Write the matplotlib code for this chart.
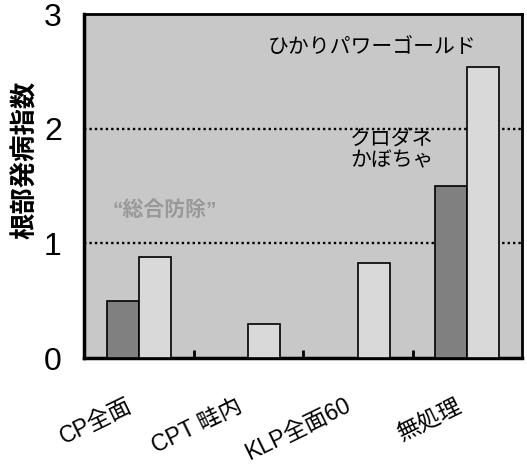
import numpy as np
import matplotlib
matplotlib.use('Agg')
import matplotlib.pyplot as plt
from matplotlib.ticker import FixedLocator
from matplotlib.transforms import ScaledTranslation

plt.rcParams['font.family'] = ['Liberation Sans', 'Noto Sans CJK JP', 'DejaVu Sans']

# data
categories = ['CP全面', 'CPT 畦内', 'KLP全面60', '無処理']
kurodane = [0.5, np.nan, np.nan, 1.5]      # クロダネかぼちゃ
hikari = [0.88, 0.3, 0.83, 2.54]           # ひかりパワーゴールド

fig = plt.figure(figsize=(5.27, 4.67), dpi=100)
ax = fig.add_axes([84/527, (467-358)/467, (522-84)/527, (358-14)/467])
ax.set_facecolor('#c8c8c8')

x = np.arange(len(categories))
w = 0.29
ax.bar(x, kurodane, width=-w, align='edge', color='#808080', edgecolor='black', linewidth=1.2, zorder=3)
ax.bar(x, hikari, width=w, align='edge', color='#d9d9d9', edgecolor='black', linewidth=1.2, zorder=3)

ax.set_xlim(-0.5, 3.5)
ax.set_ylim(0, 3)
ax.set_yticks([0, 1, 2, 3])
ax.tick_params(axis='y', length=0, labelsize=23, pad=16)
ax.set_xticks(x)
ax.set_xticklabels(categories, rotation=26, ha='right', rotation_mode='anchor', fontsize=16.5)
ax.tick_params(axis='x', which='major', length=0, pad=26)
shift = ScaledTranslation(-0.13, 0, fig.dpi_scale_trans)
for lbl in ax.get_xticklabels():
    lbl.set_transform(lbl.get_transform() + shift)
ax.xaxis.set_minor_locator(FixedLocator([0.5, 1.5, 2.5]))
ax.tick_params(axis='x', which='minor', direction='in', length=6, width=2)

for s in ax.spines.values():
    s.set_linewidth(2)
ax.spines['bottom'].set_linewidth(2.5)
ax.spines['left'].set_linewidth(2.5)

for yv in [1, 2]:
    ax.axhline(yv, color='black', linestyle=(0, (1, 1.3)), linewidth=1.7, zorder=2)

ax.set_ylabel('根部発病指数', fontsize=19, fontweight='bold')
ax.yaxis.set_label_coords(-0.105, 0.575)

ax.text(2.13, 2.71, 'ひかりパワーゴールド', fontsize=15, ha='center', va='center', style='italic')
ax.text(2.31, 1.81, 'クロダネ\nかぼちゃ', fontsize=15, ha='center', va='center', style='italic', linespacing=1.15)
ax.text(0.24, 1.29, '“総合防除”', fontsize=15, ha='center', va='center', color='#999999', fontweight='bold')

fig.savefig('out.png', dpi=100)
